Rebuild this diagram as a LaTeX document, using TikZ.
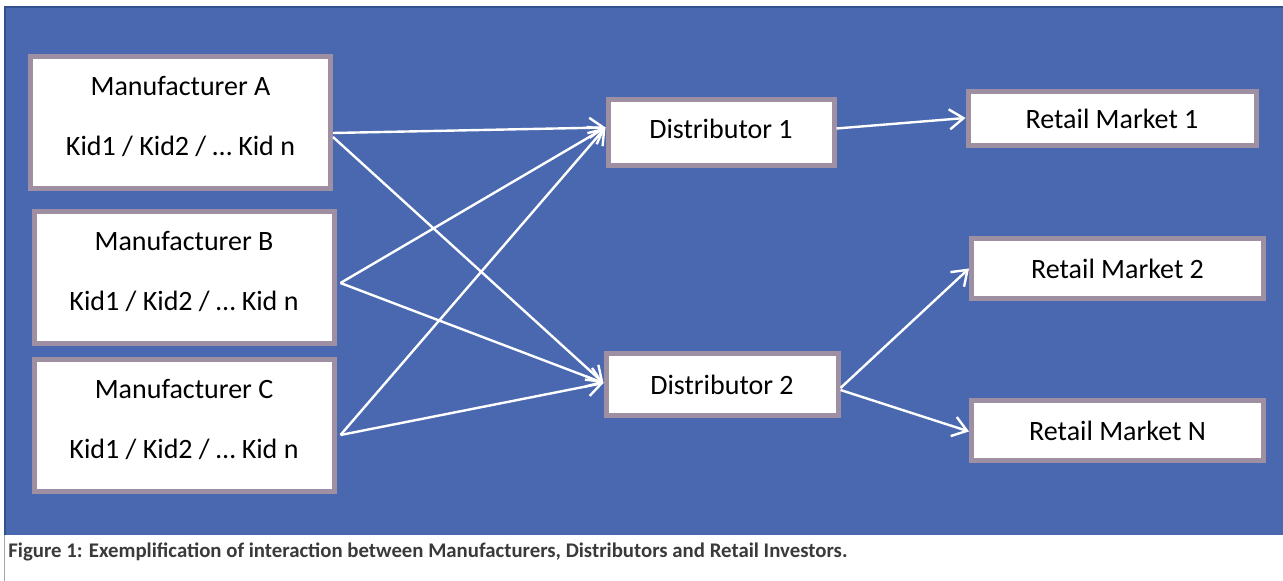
\documentclass[tikz,border=0pt]{standalone}
\usepackage{fontspec}
\setmainfont{Carlito}
\usetikzlibrary{arrows.meta}
\definecolor{bgblue}{HTML}{4A68AF}
\definecolor{bgedge}{HTML}{34518F}
\definecolor{boxedge}{HTML}{9E90A2}
\definecolor{captext}{HTML}{3A3A3A}
\tikzset{
	boxnode/.style={draw=boxedge, line width=2.5pt, fill=white, inner sep=0pt,
		font=\fontsize{14}{30}\selectfont, align=center},
	mfgnode/.style={boxnode, minimum width=150pt, minimum height=66pt, text depth=7pt},
	flow/.style={draw=white, line width=1.2pt, -{Straight Barb[length=7pt, width=10pt, line width=1.2pt]}}
}
\begin{document}
\begin{tikzpicture}[x=0.5pt, y=-0.5pt]
	\useasboundingbox (0,0) rectangle (1283,581);
	% Background:
	\fill[bgblue] (5,7) rectangle (1283,535);
	\draw[bgedge, line width=1.2pt] (5,535) -- (5,7) -- (1283,7);
	\draw[gray!70, line width=0.5pt] (4,535) -- (4,581);
	% Nodes:
	\node[mfgnode] (mfgA) at (180.5,123) {Manufacturer A\\Kid1 / Kid2 / … Kid n};
	\node[mfgnode] (mfgB) at (184,278) {Manufacturer B\\Kid1 / Kid2 / … Kid n};
	\node[mfgnode] (mfgC) at (184,426) {Manufacturer C\\Kid1 / Kid2 / … Kid n};
	\node[boxnode, minimum width=113pt, minimum height=33pt, text depth=4pt] (dist1) at (721,132.5) {Distributor 1};
	\node[boxnode, minimum width=116pt, minimum height=31pt] (dist2) at (722,385) {Distributor 2};
	\node[boxnode, minimum width=144pt, minimum height=27pt] (rm1) at (1112,119) {Retail Market 1};
	\node[boxnode, minimum width=146pt, minimum height=30pt] (rm2) at (1117.5,268.5) {Retail Market 2};
	\node[boxnode, minimum width=146pt, minimum height=30pt] (rmN) at (1117.5,430.5) {Retail Market N};
	% Arrows:
	\draw[flow] ([yshift=-5pt]mfgA.east) -- ([yshift=2.5pt]dist1.west);
	\draw[flow] ([yshift=-7pt]mfgA.east) -- ([yshift=1pt]dist2.west);
	\draw[flow] ([xshift=2pt, yshift=-2.5pt]mfgB.east) -- ([yshift=2.5pt]dist1.west);
	\draw[flow] ([xshift=2pt, yshift=-2.5pt]mfgB.east) -- ([yshift=1pt]dist2.west);
	\draw[flow] ([xshift=2pt, yshift=-4.5pt]mfgC.east) -- ([yshift=2.5pt]dist1.west);
	\draw[flow] ([xshift=2pt, yshift=-4.5pt]mfgC.east) -- ([yshift=1pt]dist2.west);
	\draw[flow] ([yshift=2pt]dist1.east) -- ([yshift=0.5pt]rm1.west);
	\draw[flow] ([yshift=-1.5pt]dist2.east) -- (rm2.west);
	\draw[flow] ([yshift=-2.5pt]dist2.east) -- ([yshift=-0.5pt]rmN.west);
	% Caption:
	\node[anchor=west, inner sep=0pt, text=captext, font=\fontsize{10.4}{12}\selectfont\bfseries] (caption) at (8,552)
		{Figure 1: Exemplification of interaction between Manufacturers, Distributors and Retail Investors.};
\end{tikzpicture}
\end{document}
